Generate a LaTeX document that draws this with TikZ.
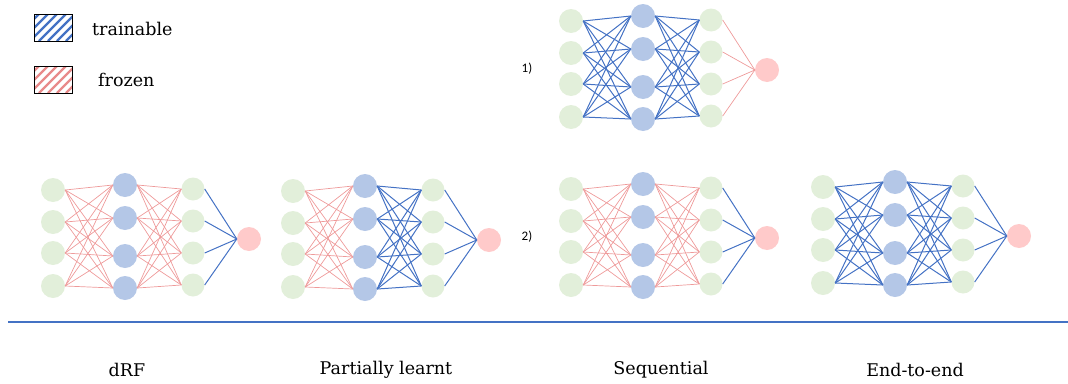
\documentclass[tikz,border=0pt]{standalone}
\usepackage{fontspec}
\setmainfont{DejaVu Serif}
\newfontfamily\numfont{Carlito}
\definecolor{trainblue}{HTML}{4472C4}
\definecolor{frozenred}{HTML}{EE9A9A}
\definecolor{hatchred}{HTML}{E88A8A}
\definecolor{ingreen}{HTML}{E2EFDA}
\definecolor{hidblue}{HTML}{B4C7E7}
\definecolor{outred}{HTML}{FFCACA}
\tikzset{
  neuron/.style={circle,minimum size=24pt,inner sep=0pt,draw=none},
  innode/.style={neuron,fill=ingreen},
  hidnode/.style={neuron,fill=hidblue},
  midnode/.style={neuron,fill=ingreen,minimum size=23pt},
  outnode/.style={neuron,fill=outred},
  trainedge/.style={draw=trainblue,line width=1pt},
  frozenedge/.style={draw=frozenred,line width=0.7pt},
  caption/.style={font=\fontsize{17.5}{20}\selectfont,inner sep=0pt},
  stepnum/.style={font=\numfont\fontsize{13}{15}\selectfont,inner sep=0pt},
  keybox/.style={draw=black,line width=0.9pt,minimum width=38pt,minimum height=27pt,inner sep=0pt},
}
% \mlp{prefix}{x}{y}{style in->hidden}{style hidden->mid}{style mid->out}
\newcommand{\mlp}[6]{%
  \foreach \i/\dy in {1/0,2/32,3/63,4/96}
    \node[innode] (#1i\i) at (#2,#3+\dy) {};
  \foreach \i/\dy in {1/-5,2/28,3/66,4/98}
    \node[hidnode] (#1h\i) at (#2+72,#3+\dy) {};
  \foreach \i/\dy in {1/-1,2/31,3/63,4/95}
    \node[midnode] (#1m\i) at (#2+140,#3+\dy) {};
  \node[outnode] (#1o) at (#2+196,#3+49) {};
  \foreach \a in {1,...,4}{
    \foreach \b in {1,...,4}{
      \draw[#4] (#1i\a.east) -- (#1h\b.west);
      \draw[#5] (#1h\a.east) -- (#1m\b.west);
    }
    \draw[#6] (#1m\a.east) -- (#1o.west);
  }
}
\begin{document}
\begin{tikzpicture}[x=1pt,y=-1pt]
\useasboundingbox (0,0) rectangle (1068,383);

% legend
\begin{scope}
  \clip (34,14) rectangle (72,41);
  \foreach \k in {-40,-31,...,80}
    \draw[trainblue,line width=2.4pt] (34+\k,41) -- (34+\k+30,11);
\end{scope}
\node[keybox] (keytrain) at (53,27.5) {};
\node[caption,anchor=west] (txttrain) at (92,29) {trainable};
\begin{scope}
  \clip (34,66) rectangle (72,93);
  \foreach \k in {-40,-31,...,80}
    \draw[hatchred,line width=2.4pt] (34+\k,93) -- (34+\k+30,63);
\end{scope}
\node[keybox] (keyfrozen) at (53,79.5) {};
\node[caption,anchor=west] (txtfrozen) at (98,80) {frozen};

% networks
\mlp{a}{53}{190}{frozenedge}{frozenedge}{trainedge}
\mlp{b}{293}{191}{frozenedge}{trainedge}{trainedge}
\mlp{c}{571}{189}{frozenedge}{frozenedge}{trainedge}
\mlp{d}{823}{187}{trainedge}{trainedge}{trainedge}
\mlp{t}{571}{21}{trainedge}{trainedge}{frozenedge}

\node[stepnum] (one) at (527,69) {1)};
\node[stepnum] (two) at (527,237) {2)};

% separator
\coordinate (sepL) at (8,322);
\coordinate (sepR) at (1068,322);
\draw[trainblue,line width=1.8pt] (sepL) -- (sepR);

% captions
\node[caption] (capa) at (127,370) {dRF};
\node[caption] (capb) at (386,370) {Partially learnt};
\node[caption] (capc) at (661,370) {Sequential};
\node[caption] (capd) at (915,370) {End-to-end};
\end{tikzpicture}
\end{document}
